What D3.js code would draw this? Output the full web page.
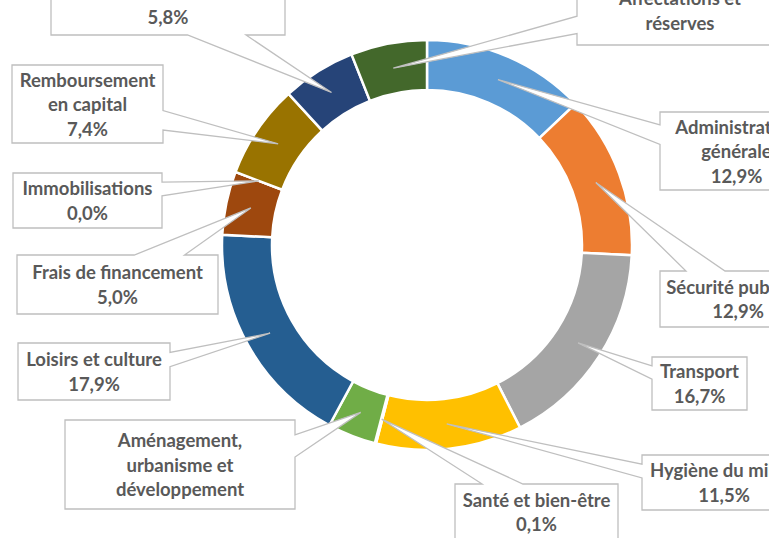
<!DOCTYPE html>
<html>
<head>
<meta charset="utf-8">
<script src="https://cdn.jsdelivr.net/npm/d3@7/dist/d3.min.js"></script>
<style>
  body { margin: 0; background: #fff; }
  svg { display: block; }
</style>
</head>
<body>
<svg width="769" height="538"></svg>
<script>
// slices, clockwise from 12 o'clock
const categories = [
  "Administration\ngénérale", "Sécurité publique", "Transport", "Hygiène du milieu",
  "Santé et bien-être", "Aménagement,\nurbanisme et\ndéveloppement", "Loisirs et culture",
  "Frais de financement", "Immobilisations", "Remboursement\nen capital",
  "Service de la dette", "Affectations et\nréserves"
];
const values = [12.9, 12.9, 16.7, 11.5, 0.1, 3.8, 17.9, 5.0, 0.0, 7.4, 5.8, 6.0];
const showPct = [true, true, true, true, true, false, true, true, true, true, true, false];
const colors = ["#5B9BD5", "#ED7D31", "#A5A5A5", "#FFC000", "#4472C4", "#70AD47",
                "#255E91", "#9E480E", "#636363", "#997300", "#264478", "#43682B"];

// callout boxes [x, y, w, h]
const boxes = [
  [660, 112, 153, 78], [660, 271, 156, 56], [652, 357, 95, 53], [642, 455, 164, 55],
  [455, 484, 163, 56], [65, 420, 230, 89], [18, 343, 152, 57], [17, 255, 201, 59],
  [13, 173, 149, 55], [12, 65, 151, 78], [51, -25, 234, 60], [577, -24, 206, 69]
];

const data = categories.map((c, i) => ({name: c, value: values[i], color: colors[i], pct: showPct[i], box: boxes[i]}));

const svg = d3.select('svg');
const cx = 427, cy = 245;
const g = svg.append('g').attr('transform', `translate(${cx},${cy})`);

const pie = d3.pie().sort(null).value(d => d.value);
const arc = d3.arc().innerRadius(155).outerRadius(205);
const tipArc = d3.arc().innerRadius(180).outerRadius(180);
const arcs = pie(data);

g.selectAll('path.slice').data(arcs)
  .enter().append('path')
  .attr('class', 'slice')
  .attr('d', arc)
  .attr('fill', d => d.data.color)
  .attr('stroke', '#fff')
  .attr('stroke-width', 2.5)
  .attr('stroke-linejoin', 'miter');

// excel style wedge callout
function callout(b, tip) {
  const l = b[0], t = b[1], w = b[2], h = b[3], r = l + w, bt = t + h;
  const hc = l + w / 2, vc = t + h / 2;
  const xp = tip[0], yp = tip[1];
  const dx = xp - hc, dy = yp - vc;
  const dz = Math.abs(dy) - Math.abs(dx * h / w);
  const x1 = l + w * (dx > 0 ? 7 : 2) / 12, x2 = l + w * (dx > 0 ? 10 : 5) / 12;
  const y1 = t + h * (dy > 0 ? 7 : 2) / 12, y2 = t + h * (dy > 0 ? 10 : 5) / 12;
  const xl = dz > 0 ? l : (dx > 0 ? l : xp);
  const yl = dz > 0 ? y1 : (dx > 0 ? y1 : yp);
  const xt = dz > 0 ? (dy > 0 ? x1 : xp) : x1;
  const yt = dz > 0 ? (dy > 0 ? t : yp) : t;
  const xr = dz > 0 ? r : (dx > 0 ? xp : r);
  const yr = dz > 0 ? y1 : (dx > 0 ? yp : y1);
  const xb = dz > 0 ? (dy > 0 ? xp : x1) : x1;
  const yb = dz > 0 ? (dy > 0 ? yp : bt) : bt;
  return `M${l},${t}L${x1},${t}L${xt},${yt}L${x2},${t}L${r},${t}L${r},${y1}L${xr},${yr}L${r},${y2}` +
    `L${r},${bt}L${x2},${bt}L${xb},${yb}L${x1},${bt}L${l},${bt}L${l},${y2}L${xl},${yl}L${l},${y1}Z`;
}

const fmt = v => d3.format('.1f')(v).replace('.', ',') + '%';

const labels = svg.selectAll('g.label').data(arcs)
  .enter().append('g').attr('class', 'label');

labels.append('path')
  .attr('d', d => {
    const c = tipArc.centroid(d);
    return callout(d.data.box, [c[0] + cx, c[1] + cy]);
  })
  .attr('fill', '#fff')
  .attr('stroke', '#BFBFBF')
  .attr('stroke-width', 1.3);

const lh = 24.5;
labels.each(function(d) {
  const lines = d.data.name.split('\n');
  if (d.data.pct) lines.push(fmt(d.data.value));
  const b = d.data.box;
  const mid = b[1] + b[3] / 2 + 1;
  const y0 = mid - (lines.length - 1) * lh / 2;
  d3.select(this).selectAll('text').data(lines)
    .enter().append('text')
    .attr('x', b[0] + b[2] / 2)
    .attr('y', (t, i) => y0 + i * lh + 6)
    .attr('text-anchor', 'middle')
    .attr('font-family', 'Lato, sans-serif')
    .attr('font-weight', 700)
    .attr('font-size', 18.5)
    .attr('fill', '#595959')
    .text(t => t);
});
</script>
</body>
</html>
